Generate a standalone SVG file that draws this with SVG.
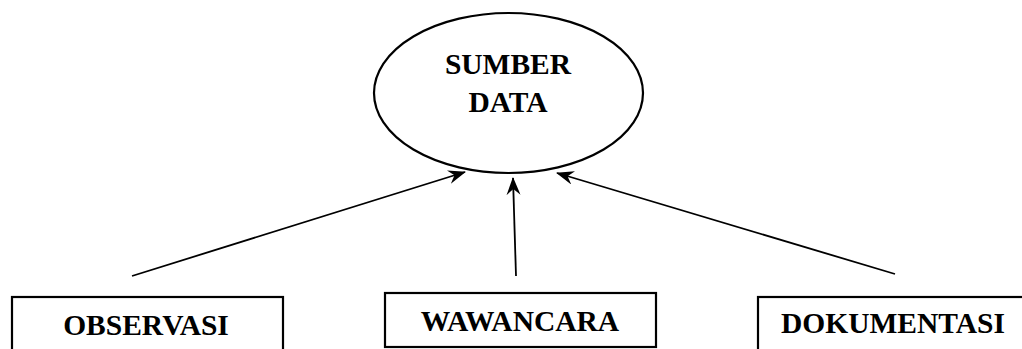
<svg xmlns="http://www.w3.org/2000/svg" width="1022" height="349" viewBox="0 0 1022 349">
<style>
.t{font-family:"Liberation Serif","Times New Roman",serif;font-weight:bold;font-size:29.5px;fill:#000;text-anchor:middle}
.s{fill:#fff;stroke:#000;stroke-width:2.2}
.c{stroke:#000;stroke-width:1.8;fill:none}
</style>
<defs>
<marker id="ah" viewBox="0 0 18 14" refX="17" refY="7" markerWidth="18" markerHeight="14" markerUnits="userSpaceOnUse" orient="auto">
<path d="M0,0 L18,7 L0,14 L6,7 Z" fill="#000"/>
</marker>
</defs>
<rect width="1022" height="349" fill="#fff"/>
<g id="sumber-data">
<ellipse class="s" cx="508.5" cy="93" rx="134.5" ry="80"/>
<text class="t" x="508" y="74">SUMBER</text>
<text class="t" x="508" y="112">DATA</text>
</g>
<g id="observasi">
<rect class="s" x="12" y="297" width="271" height="60"/>
<text class="t" x="146" y="335">OBSERVASI</text>
</g>
<g id="wawancara">
<rect class="s" x="385" y="293" width="271" height="54"/>
<text class="t" x="520" y="331">WAWANCARA</text>
</g>
<g id="dokumentasi">
<rect class="s" x="758" y="297" width="280" height="60"/>
<text class="t" x="893" y="333">DOKUMENTASI</text>
</g>
<g id="connectors">
<line class="c" x1="132" y1="276" x2="465" y2="172" marker-end="url(#ah)"/>
<line class="c" x1="516" y1="276" x2="513" y2="178" marker-end="url(#ah)"/>
<line class="c" x1="895" y1="274" x2="557" y2="173" marker-end="url(#ah)"/>
</g>
</svg>
